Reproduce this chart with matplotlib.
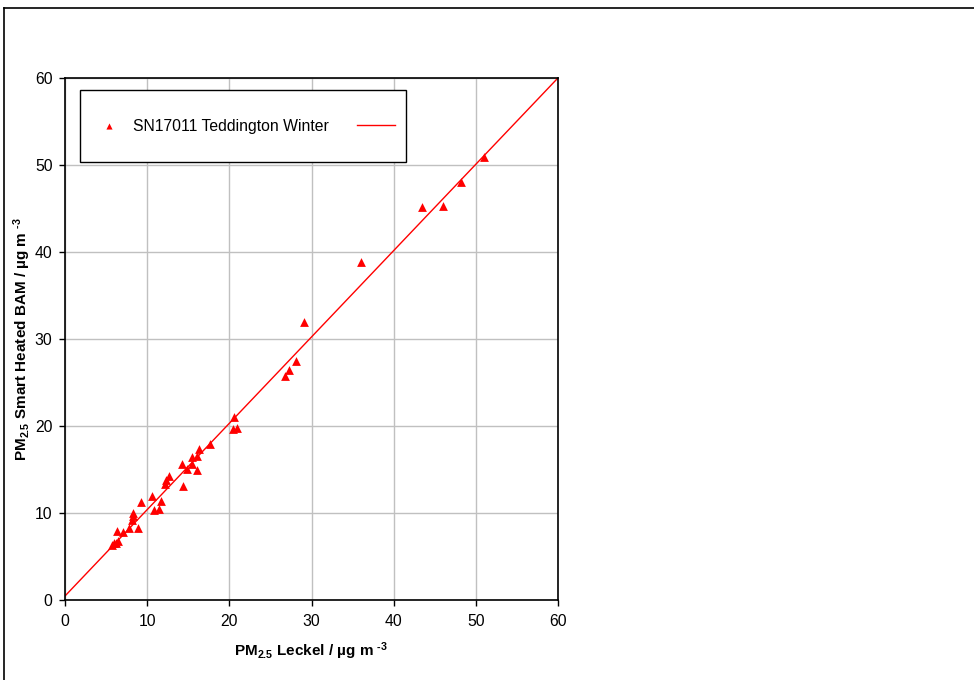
import matplotlib
matplotlib.use("Agg")
import matplotlib.pyplot as plt
from matplotlib.lines import Line2D
from matplotlib.patches import Rectangle
import numpy as np

plt.rcParams['font.family'] = ['Liberation Sans', 'DejaVu Sans']
plt.rcParams['mathtext.fontset'] = 'custom'
plt.rcParams['mathtext.rm'] = 'Liberation Sans:bold'
plt.rcParams['mathtext.bf'] = 'Liberation Sans:bold'
plt.rcParams['mathtext.default'] = 'bf'

# Data: PM2.5 Leckel (x) vs Smart Heated BAM (y)
leckel = [50.95, 48.15, 46.0, 43.5, 36.0, 29.1, 28.1, 27.3, 26.8,
          20.57, 20.4, 20.9, 17.7, 16.35, 16.1, 15.5, 14.2, 15.5, 14.8, 16.1,
          12.6, 12.3, 12.2, 14.4, 10.6, 9.3, 11.7, 11.4, 10.8,
          8.3, 8.3, 8.2, 7.75, 8.9, 7.0, 6.3, 6.45, 5.96, 5.7, 6.2]
bam = [50.9, 48.0, 45.3, 45.2, 38.8, 31.9, 27.5, 26.4, 25.8,
       21.0, 19.6, 19.8, 17.9, 17.4, 16.6, 16.4, 15.6, 15.6, 15.1, 15.0,
       14.2, 13.8, 13.3, 13.1, 12.0, 11.3, 11.4, 10.5, 10.4,
       10.0, 9.65, 9.2, 8.3, 8.3, 7.85, 7.9, 6.8, 6.6, 6.3, 6.5]
series_label = 'SN17011 Teddington Winter'
fit_slope = 0.9925
fit_intercept = 0.46
ticks = [0, 10, 20, 30, 40, 50, 60]

fig = plt.figure(figsize=(9.74, 6.8), dpi=100)
ax = fig.add_axes([65/974, 1-600/680, (558-65)/974, (600-78)/680])

sc = ax.scatter(leckel, bam, marker='^', s=40, color='red', zorder=3, linewidths=0)
fx = np.array([0, 60])
ln, = ax.plot(fx, fit_slope*fx + fit_intercept, color='red', lw=1, zorder=2)

ax.set_xlim(0, 60)
ax.set_ylim(0, 60)
ax.set_xticks(ticks)
ax.set_yticks(ticks)
ax.grid(True, color='#c0c0c0', lw=1)
ax.set_axisbelow(True)
for s in ax.spines.values():
    s.set_color('black')
    s.set_linewidth(1.2)
ax.tick_params(direction='out', length=4, width=1, labelsize=11.3, pad=6)
ax.tick_params(axis='y', pad=5)

ax.set_xlabel('PM$_{2.5}$ Leckel / µg m $^{\u20103}$', fontsize=11, fontweight='bold', labelpad=8)
ax.set_ylabel('PM$_{2.5}$ Smart Heated BAM / µg m $^{\u20103}$', fontsize=11, fontweight='bold', labelpad=1)

# legend box
rect = Rectangle((80/974, 1-162/680), 326/974, 72/680, transform=fig.transFigure,
                 facecolor='white', edgecolor='black', lw=1, zorder=5)
fig.add_artist(rect)
leg = fig.legend([sc, ln], [series_label, ''], ncol=2, frameon=False,
                 loc='center', bbox_to_anchor=(245/974, 1-126/680),
                 fontsize=11.3, handlelength=2.4, handletextpad=0.3,
                 columnspacing=1.8, markerscale=0.7, scatterpoints=1)
leg.set_zorder(6)

# outer frame lines (top and left)
fig.add_artist(Line2D([3.5/974, 1], [1-8/680, 1-8/680], transform=fig.transFigure, color='black', lw=1.2))
fig.add_artist(Line2D([3.5/974, 3.5/974], [0, 1-8/680], transform=fig.transFigure, color='black', lw=1.2))

fig.savefig('out.png', dpi=100)
